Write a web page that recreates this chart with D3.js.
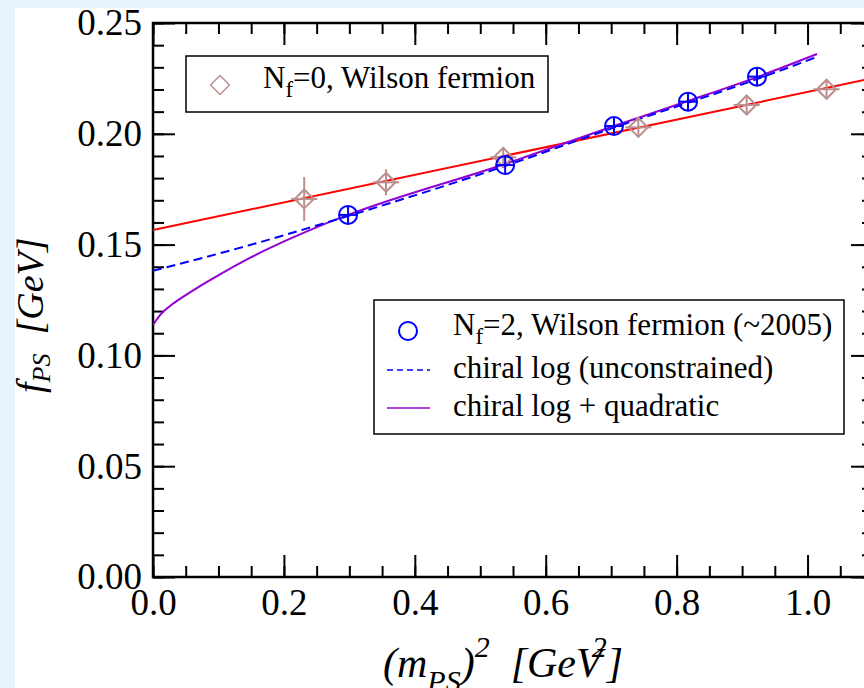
<!DOCTYPE html>
<html>
<head>
<meta charset="utf-8">
<script src="https://cdn.jsdelivr.net/npm/d3@7/dist/d3.min.js"></script>
<style>
  html, body { margin: 0; padding: 0; background: #e9f3fd; }
  svg { display: block; }
  text { font-family: "Liberation Serif", "Times New Roman", serif; fill: #000; }
</style>
</head>
<body>
<svg id="chart" width="864" height="688"></svg>
<script>
// Quenched (Nf=0) Wilson-fermion points: (m_PS)^2 [GeV^2], f_PS [GeV], errors
const nf0X    = [0.231, 0.356, 0.535, 0.7415, 0.907, 1.029];
const nf0Y    = [0.1706, 0.1781, 0.1894, 0.2029, 0.2130, 0.2201];
const nf0Err  = [0.0099, 0.0059, 0.0043, 0.0045, 0.0045, 0.0045];
const nf0XErr = [0.02, 0.02, 0.02, 0.02, 0.02, 0.02];

// Dynamical (Nf=2) Wilson-fermion points
const nf2X    = [0.298, 0.538, 0.7043, 0.8174, 0.9228];
const nf2Y    = [0.1634, 0.1859, 0.2035, 0.2145, 0.2258];
const nf2Err  = [0.004, 0.004, 0.004, 0.004, 0.004];
const nf2XErr = [0.014, 0.014, 0.014, 0.014, 0.014];

// Linear fit to the Nf=0 data (end points)
const linFitX = [0.0, 1.1];
const linFitY = [0.1566, 0.2251];

// Chiral-log fit, unconstrained (sampled curve)
const logFitX = [0.0, 0.148, 0.298, 0.538, 0.7043, 0.9228, 1.0145];
const logFitY = [0.1382, 0.1498, 0.1629, 0.1855, 0.2028, 0.2247, 0.2347];

// Chiral log + quadratic fit (sampled curve)
const quadFitX = [0.0, 0.0107, 0.026, 0.0458, 0.0718, 0.0978, 0.148, 0.1986, 0.2506, 0.298, 0.538, 0.7043, 0.8174, 0.9228, 1.0145];
const quadFitY = [0.1137, 0.1182, 0.1223, 0.1264, 0.1313, 0.1358, 0.1440, 0.1512, 0.1579, 0.1634, 0.1864, 0.2035, 0.2148, 0.2256, 0.2360];

// Axis ticks
const xMajor = [0.0, 0.2, 0.4, 0.6, 0.8, 1.0];
const yMajor = [0.00, 0.05, 0.10, 0.15, 0.20, 0.25];

const svg = d3.select("#chart");
const W = 864, H = 688;

// Page background and white panel
svg.append("rect").attr("x", 0).attr("y", 0).attr("width", W).attr("height", H).attr("fill", "#e9f3fd");
svg.append("rect").attr("x", 15).attr("y", 8).attr("width", W - 15).attr("height", H - 8).attr("fill", "#ffffff");

const pL = 153, pT = 23, pR = 873, pB = 577;
const x = d3.scaleLinear().domain([0, 1.1]).range([pL, pR]);
const y = d3.scaleLinear().domain([0, 0.25]).range([pB, pT]);

const xMinor = d3.range(0, 1.1001, 0.05).map(v => +v.toFixed(2));
const yMinor = d3.range(0, 0.2501, 0.01).map(v => +v.toFixed(2));

const MAJ = 22, MIN = 11;
const tickFont = "37px";

function styleAxis(g) {
  g.select(".domain").remove();
  g.selectAll(".tick line").attr("stroke", "#000").attr("stroke-width", 2);
  g.selectAll("text").style("font-size", tickFont).attr("fill", "#000");
}

// Bottom axis
svg.append("g").attr("transform", `translate(0,${pB})`)
  .call(d3.axisBottom(x).tickValues(xMinor).tickFormat("").tickSize(-MIN).tickSizeOuter(0)).call(styleAxis);
svg.append("g").attr("transform", `translate(0,${pB})`)
  .call(d3.axisBottom(x).tickValues(xMajor).tickFormat(d3.format(".1f")).tickSize(-MAJ).tickSizeOuter(0).tickPadding(12))
  .call(styleAxis);
// Top axis
svg.append("g").attr("transform", `translate(0,${pT})`)
  .call(d3.axisTop(x).tickValues(xMinor).tickFormat("").tickSize(-MIN).tickSizeOuter(0)).call(styleAxis);
svg.append("g").attr("transform", `translate(0,${pT})`)
  .call(d3.axisTop(x).tickValues(xMajor).tickFormat("").tickSize(-MAJ).tickSizeOuter(0)).call(styleAxis);
// Left axis
svg.append("g").attr("transform", `translate(${pL},0)`)
  .call(d3.axisLeft(y).tickValues(yMinor).tickFormat("").tickSize(-MIN).tickSizeOuter(0)).call(styleAxis);
svg.append("g").attr("transform", `translate(${pL},0)`)
  .call(d3.axisLeft(y).tickValues(yMajor).tickFormat(d3.format(".2f")).tickSize(-MAJ).tickSizeOuter(0).tickPadding(11))
  .call(styleAxis);
// Right axis
svg.append("g").attr("transform", `translate(${pR},0)`)
  .call(d3.axisRight(y).tickValues(yMinor).tickFormat("").tickSize(-MIN).tickSizeOuter(0)).call(styleAxis);
svg.append("g").attr("transform", `translate(${pR},0)`)
  .call(d3.axisRight(y).tickValues(yMajor).tickFormat("").tickSize(-MAJ).tickSizeOuter(0)).call(styleAxis);

// Frame
svg.append("rect").attr("x", pL).attr("y", pT).attr("width", pR - pL).attr("height", pB - pT)
  .attr("fill", "none").attr("stroke", "#000").attr("stroke-width", 2.5);

// Clip for plotted curves
svg.append("clipPath").attr("id", "plotclip").append("rect")
  .attr("x", pL).attr("y", pT).attr("width", pR - pL).attr("height", pB - pT);
const plot = svg.append("g").attr("clip-path", "url(#plotclip)");

const zip = (xs, ys) => xs.map((v, i) => [v, ys[i]]);

// Fit curves
plot.append("path").datum(zip(linFitX, linFitY))
  .attr("d", d3.line().x(d => x(d[0])).y(d => y(d[1])))
  .attr("fill", "none").attr("stroke", "#ff0000").attr("stroke-width", 2);

plot.append("path").datum(zip(quadFitX, quadFitY))
  .attr("d", d3.line().x(d => x(d[0])).y(d => y(d[1])).curve(d3.curveMonotoneX))
  .attr("fill", "none").attr("stroke", "#9400d3").attr("stroke-width", 2);

plot.append("path").datum(zip(logFitX, logFitY))
  .attr("d", d3.line().x(d => x(d[0])).y(d => y(d[1])).curve(d3.curveMonotoneX))
  .attr("fill", "none").attr("stroke", "#0000ff").attr("stroke-width", 2).attr("stroke-dasharray", "9,5");

// Nf=0 diamonds with error bars
const brown = "#bc8f8f";
const nf0 = nf0X.map((v, i) => ({ x: v, y: nf0Y[i], e: nf0Err[i], xe: nf0XErr[i] }));
const g0 = plot.append("g").attr("stroke", brown).attr("stroke-width", 2).attr("fill", "none");
g0.selectAll("line.v").data(nf0).join("line").attr("class", "v")
  .attr("x1", d => x(d.x)).attr("x2", d => x(d.x)).attr("y1", d => y(d.y - d.e)).attr("y2", d => y(d.y + d.e));
g0.selectAll("line.h").data(nf0).join("line").attr("class", "h")
  .attr("x1", d => x(d.x - d.xe)).attr("x2", d => x(d.x + d.xe)).attr("y1", d => y(d.y)).attr("y2", d => y(d.y));
const dia = 9.5;
g0.selectAll("path").data(nf0).join("path")
  .attr("d", d => { const cx = x(d.x), cy = y(d.y);
    return `M${cx},${cy - dia}L${cx + dia},${cy}L${cx},${cy + dia}L${cx - dia},${cy}Z`; });

// Nf=2 circles with error bars
const nf2 = nf2X.map((v, i) => ({ x: v, y: nf2Y[i], e: nf2Err[i], xe: nf2XErr[i] }));
const g2 = plot.append("g").attr("stroke", "#0000ff").attr("stroke-width", 2).attr("fill", "none");
g2.selectAll("line.v").data(nf2).join("line").attr("class", "v")
  .attr("x1", d => x(d.x)).attr("x2", d => x(d.x)).attr("y1", d => y(d.y - d.e)).attr("y2", d => y(d.y + d.e));
g2.selectAll("line.h").data(nf2).join("line").attr("class", "h")
  .attr("x1", d => x(d.x - d.xe)).attr("x2", d => x(d.x + d.xe)).attr("y1", d => y(d.y)).attr("y2", d => y(d.y));
g2.selectAll("circle").data(nf2).join("circle")
  .attr("cx", d => x(d.x)).attr("cy", d => y(d.y)).attr("r", 9);

// Legend 1
svg.append("rect").attr("x", 186).attr("y", 56).attr("width", 362).attr("height", 56)
  .attr("fill", "#fff").attr("stroke", "#000").attr("stroke-width", 1.5);
svg.append("path").attr("d", `M220,${85 - dia}L${220 + dia},85L220,${85 + dia}L${220 - dia},85Z`)
  .attr("fill", "none").attr("stroke", brown).attr("stroke-width", 1.5);
const t1 = svg.append("text").attr("x", 263).attr("y", 88).style("font-size", "31px");
t1.append("tspan").text("N");
t1.append("tspan").attr("dy", 9).style("font-size", "23px").text("f");
t1.append("tspan").attr("dy", -9).text("=0, Wilson fermion");

// Legend 2
svg.append("rect").attr("x", 374).attr("y", 300).attr("width", 470).attr("height", 134)
  .attr("fill", "#fff").attr("stroke", "#000").attr("stroke-width", 1.5);
svg.append("circle").attr("cx", 408).attr("cy", 331).attr("r", 9)
  .attr("fill", "none").attr("stroke", "#0000ff").attr("stroke-width", 2);
svg.append("line").attr("x1", 387).attr("x2", 430).attr("y1", 370).attr("y2", 370)
  .attr("stroke", "#0000ff").attr("stroke-width", 1.5).attr("stroke-dasharray", "6,4");
svg.append("line").attr("x1", 387).attr("x2", 430).attr("y1", 408).attr("y2", 408)
  .attr("stroke", "#9400d3").attr("stroke-width", 1.5);
const t2 = svg.append("text").attr("x", 453).attr("y", 335).style("font-size", "31px");
t2.append("tspan").text("N");
t2.append("tspan").attr("dy", 9).style("font-size", "23px").text("f");
t2.append("tspan").attr("dy", -9).text("=2, Wilson fermion (~2005)");
svg.append("text").attr("x", 453).attr("y", 378).style("font-size", "31px").text("chiral log (unconstrained)");
svg.append("text").attr("x", 453).attr("y", 416).style("font-size", "31px").text("chiral log + quadratic");

// X axis title
const xt = svg.append("text").attr("x", 383).attr("y", 677)
  .style("font-size", "42px").style("font-style", "italic");
xt.append("tspan").text("(m");
xt.append("tspan").attr("dy", 14).style("font-size", "30px").text("PS");
xt.append("tspan").attr("dy", -14).text(")");
xt.append("tspan").attr("dy", -20).style("font-size", "30px").text("2");
xt.append("tspan").attr("dy", 20).text("\u00a0\u00a0[GeV");
xt.append("tspan").attr("dy", -20).attr("dx", -10).style("font-size", "30px").text("2");
xt.append("tspan").attr("dy", 20).text("]");

// Y axis title
const yt = svg.append("text").attr("transform", "translate(43,393) rotate(-90)")
  .style("font-size", "38px").style("font-style", "italic");
yt.append("tspan").text("f");
yt.append("tspan").attr("dy", 7).style("font-size", "26px").text("PS");
yt.append("tspan").attr("dy", -7).text("\u00a0\u00a0[GeV]");
</script>
</body>
</html>
